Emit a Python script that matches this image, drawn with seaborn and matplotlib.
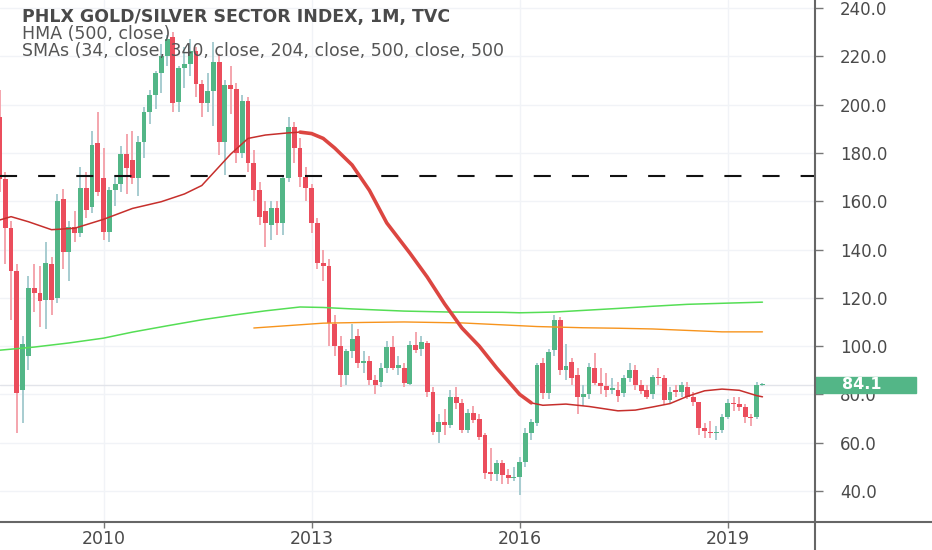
import numpy as np
import pandas as pd
import matplotlib
matplotlib.use("Agg")
import matplotlib.pyplot as plt
import seaborn as sns
from matplotlib.lines import Line2D
from matplotlib.patches import Rectangle
from matplotlib.ticker import FormatStrFormatter
from matplotlib.transforms import blended_transform_factory

# monthly candles, Jul 2008 .. Jul 2019
opens = [195, 169, 149, 131, 82, 96,
         124, 122, 119, 134, 120, 161, 139, 149.5, 147, 165.3, 157.7, 184,
         169.5, 147.4, 164.6, 167, 179.5, 177, 169.5, 184.6, 197, 204, 213, 220,
         228, 201, 215, 217, 222, 208.5, 200.6, 205.5, 217.6, 184.6, 208, 206.5,
         180, 201.5, 175.7, 164.6, 156, 150.1, 157, 151, 169.5, 190.8, 182, 170.2,
         165.3, 150.8, 134.4, 133, 109, 100, 88, 98, 104, 93, 94, 86,
         85, 91, 99.6, 91, 91, 84.5, 100.5, 99, 101.2, 81, 64.6, 68.7,
         67.3, 79, 76.3, 65.3, 72.2, 70, 63, 48, 47, 51.4, 46.6, 45.3,
         45.9, 52, 64, 68, 93, 80.4, 98.4, 110.8, 90, 93.4, 88, 79,
         80, 90.9, 84.7, 83.5, 82, 82, 80.6, 87, 90, 84, 82, 80,
         87.3, 86.8, 77.7, 82, 81, 83, 79, 76.9, 66, 64.5, 64, 65.3,
         70.7, 76.4, 76, 74.8, 70.7, 70.7, 84]
highs = [206, 172, 152, 134, 104, 129,
         134, 133, 143, 137, 163, 165, 152, 156, 174, 172, 189, 197,
         182, 166, 171, 183, 188, 189, 187, 199, 206, 214, 225, 229,
         230, 216, 224, 227, 224, 210, 213, 226, 221, 210, 216, 209,
         204, 203, 181, 168, 160, 160, 160, 171, 195, 193, 186, 174,
         167, 153, 140, 136, 113, 104, 99, 109, 107, 98, 96, 88,
         93, 102, 104, 96, 93, 102, 106, 104, 102, 83, 72, 74,
         82, 83, 78, 74, 75, 72, 64, 58, 53, 53, 49, 50,
         54, 66, 70, 93, 95, 99, 113, 112, 101, 95, 91, 84,
         93, 97, 91, 89, 87, 85, 88, 93, 92, 86, 84, 88,
         91, 88, 83, 84, 85, 85, 81, 77, 68, 69, 67, 72,
         78, 79, 79, 76, 72, 85, 84.6]
lows = [164, 134, 111, 64, 68, 90,
        114, 108, 107, 113, 118, 132, 127, 143, 145, 153, 155, 162,
        144, 143, 158, 164, 163, 167, 162, 178, 192, 198, 205, 216,
        197, 197, 207, 212, 203, 195, 197, 191, 179, 171, 196, 176,
        178, 172, 160, 150, 141, 144, 146, 146, 168, 176, 166, 160,
        147, 132, 127, 100, 96, 83, 84, 95, 91, 89, 84, 80,
        83, 89, 90, 88, 83, 84, 97, 96, 79, 63, 60, 63,
        66, 74, 64, 64, 68, 61, 45, 44, 44, 43, 43, 44,
        38.5, 50, 61, 67, 78, 78, 96, 88, 86, 84, 72, 75,
        78, 84, 80, 79, 80, 77, 79, 85, 82, 80, 78, 78,
        84, 76, 76, 79, 79, 78, 75, 63, 62, 62, 61, 64,
        70, 73, 73, 68, 67, 70, 83.6]
closes = [169, 149, 131, 80.5, 101, 124,
          122, 118.5, 134.3, 119, 160, 139, 149.5, 146.7, 165.3, 156.4, 183.3, 164,
          147.4, 164.6, 167, 179.5, 173.6, 169.5, 184.6, 197, 204, 213, 220, 227,
          200.5, 215, 217, 222, 208.5, 200.6, 205.5, 217.6, 184.6, 208, 206.5, 180,
          201.5, 175.7, 164.6, 153.6, 150.8, 157, 151, 169.5, 190.8, 182, 170.2, 165.3,
          150.8, 134.4, 133, 109.6, 100, 88, 98, 103, 93, 94, 86, 84,
          91, 99.6, 91, 92, 84.7, 100.5, 98.4, 101.6, 81, 64.6, 68.7, 67.3,
          79, 76.3, 65.3, 72.2, 69.4, 62.5, 47.3, 47, 51.4, 46.6, 45.3, 45.9,
          52, 64, 68.6, 92, 80.4, 97.6, 110.8, 90, 91.6, 86.8, 79, 80,
          91.2, 84.7, 83.5, 82, 82.5, 79.5, 87, 90, 84, 81.5, 79, 87.3,
          86.8, 77.7, 81, 81, 84, 79, 76.9, 66, 65, 64, 64.5, 70.7,
          76.4, 76, 74.8, 70.7, 70.2, 84, 84.1]

# moving average lines (month index -> value)
hma_idx = [0, 2, 5, 9, 13, 18, 23, 28, 32, 35, 37, 40, 43, 46, 50, 52, 54, 56, 58, 61,
           64, 67, 71, 74, 77, 80, 83, 86, 88, 90, 92, 94, 98, 102, 107, 110, 113, 116,
           119, 122, 125, 128, 131, 132]
hma_val = [152.2, 153.6, 151.5, 148.2, 148.8, 152.5, 157.0, 159.8, 163.0, 166.5,
           171.7, 179.5, 186.0, 187.4, 188.3, 188.6, 188.0, 186.0, 182.0, 175.0,
           164.5, 151.0, 138.5, 128.6, 117.5, 107.5, 100.0, 91.0, 85.5, 80.0,
           76.5, 75.5, 76.0, 75.0, 73.2, 73.5, 74.8, 76.2, 79.2, 81.5,
           82.2, 81.7, 79.5, 79.0]
sma_green_idx = [0, 6, 12, 18, 23, 29, 35, 41, 46, 52, 56, 61, 70, 78, 87, 90, 96, 107,
                 113, 119, 126, 132]
sma_green_val = [98.3, 99.6, 101.3, 103.3, 105.8, 108.4, 110.9, 113.0, 114.6, 116.2,
                 116.0, 115.4, 114.5, 114.1, 114.0, 113.8, 114.1, 115.6, 116.5, 117.3,
                 117.8, 118.2]
sma_orange_idx = [44, 50, 56, 63, 70, 80, 87, 93, 101, 107, 113, 119, 125, 132]
sma_orange_val = [107.5, 108.5, 109.5, 109.8, 110.0, 109.6, 108.8, 108.1, 107.6, 107.4,
                  107.1, 106.5, 105.9, 105.9]

dashed_level = 170.5
year_labels = ["2010", "2013", "2016", "2019"]
title_lines = ["PHLX GOLD/SILVER SECTOR INDEX, 1M, TVC",
               "HMA (500, close)",
               "SMAs (34, close, 340, close, 204, close, 500, close, 500"]

months = pd.date_range("2008-07-01", periods=len(closes), freq="MS")
df = pd.DataFrame({"open": opens, "high": highs, "low": lows, "close": closes}, index=months)
df["i"] = np.arange(len(df))

sns.set_theme(style="white")
plt.rcParams["font.family"] = ["DejaVu Sans"]

W, H = 932, 550
fig = plt.figure(figsize=(W / 100, H / 100), dpi=100)
ax = fig.add_axes([0, 28 / H, 815 / W, 522 / H])
ax.set_facecolor("white")

# grid
ax.set_yticks(np.arange(40, 241, 20))
jan_pos = [df.loc[f"{y}-01-01", "i"] for y in year_labels]
ax.set_xticks(jan_pos)
ax.set_xticklabels(year_labels)
ax.grid(True, color="#f1f3f7", linewidth=1, zorder=0)

# candles
up = df["close"] >= df["open"]
body_col = np.where(up, "#53b687", "#eb4d5c")
wick_col = np.where(up, "#a7ccd0", "#f4a5ad")
ax.vlines(df["i"], df["low"], df["high"], colors=wick_col, linewidth=1.4, zorder=2)
body_h = np.maximum((df["close"] - df["open"]).abs(), 0.5)
ax.bar(df["i"], body_h, bottom=np.minimum(df["open"], df["close"]), width=0.84,
       color=body_col, linewidth=0, zorder=3)

# price line and dashed level
ax.axhline(closes[-1], color="#e2e4ea", linewidth=1, zorder=1)
ax.axhline(dashed_level, color="#111111", linewidth=1.5, dashes=(8.2, 10.1), zorder=4)

# moving averages
sns.lineplot(x=sma_green_idx, y=sma_green_val, ax=ax, color="#55de55", linewidth=1.1, zorder=4)
sns.lineplot(x=sma_orange_idx, y=sma_orange_val, ax=ax, color="#f7941d", linewidth=1.0, zorder=4)
sns.lineplot(x=hma_idx, y=hma_val, ax=ax, color="#c62f2c", linewidth=1.1, zorder=5)
fall = [k for k, v in enumerate(hma_idx) if 52 <= v <= 92]
sns.lineplot(x=[hma_idx[k] for k in fall], y=[hma_val[k] for k in fall], ax=ax,
             color="#dc4641", linewidth=2.6, zorder=5)

ax.set_xlim(0.5 / 5.78, 815.5 / 5.78)
ax.set_ylim(27.17, 243.31)
ax.set_xlabel("")
ax.set_ylabel("")

# axes look
for s in ax.spines.values():
    s.set_visible(False)
ax.yaxis.tick_right()
ax.yaxis.set_major_formatter(FormatStrFormatter("%.1f"))
ax.tick_params(axis="y", direction="out", length=6, width=1, color="#777777",
               labelsize=12, labelcolor="#4a4a4a", pad=12, right=True)
ax.tick_params(axis="x", direction="out", length=4, width=1, color="#777777",
               labelsize=12.5, labelcolor="#4a4a4a", pad=2, bottom=True)

fig.add_artist(Line2D([815 / W, 815 / W], [0, 1], transform=fig.transFigure,
                      color="#666666", linewidth=1.5))
fig.add_artist(Line2D([0, 1], [28 / H, 28 / H], transform=fig.transFigure,
                      color="#666666", linewidth=1.5))

# last price label
blend = blended_transform_factory(ax.transAxes, ax.transData)
box_h = 16 / 2.415
ax.add_patch(Rectangle((1.0, closes[-1] - box_h / 2), 101 / 815, box_h, transform=blend,
                       color="#53b687", clip_on=False, zorder=10))
ax.text(1 + 27 / 815, closes[-1], f"{closes[-1]:.1f}", transform=blend, ha="left",
        va="center", color="white", fontsize=11.5, fontweight="bold", clip_on=False, zorder=11)

# legend text
ax.text(22 / 815, 1 - 17 / 522, title_lines[0], transform=ax.transAxes, fontsize=12.5,
        fontweight="bold", color="#4a4a4a", va="center", ha="left", zorder=12)
ax.text(22 / 815, 1 - 34 / 522, title_lines[1], transform=ax.transAxes, fontsize=12.5,
        color="#555555", va="center", ha="left", zorder=12)
ax.text(22 / 815, 1 - 51 / 522, title_lines[2], transform=ax.transAxes, fontsize=12.5,
        color="#555555", va="center", ha="left", zorder=12)

fig.savefig("out.png", dpi=100)
